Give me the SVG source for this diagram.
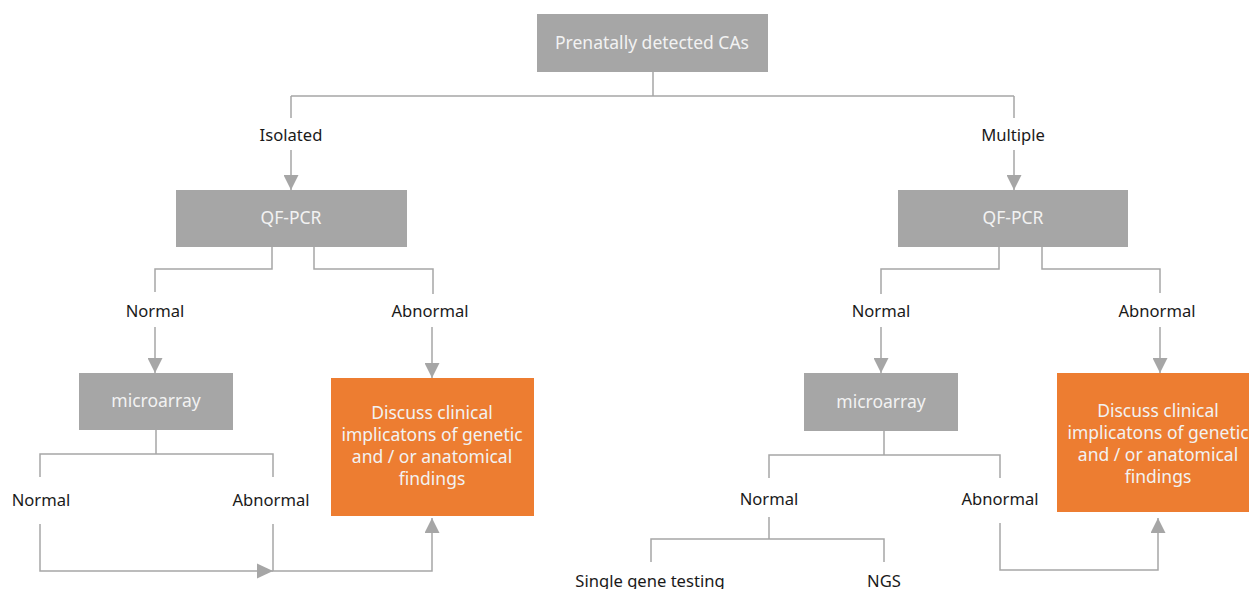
<svg xmlns="http://www.w3.org/2000/svg" width="1249" height="589" viewBox="0 0 1249 589">
<style>
.box{fill:#a6a6a6}
.or{fill:#ed7d31}
.bt{font-family:"Noto Sans","Open Sans",sans-serif;font-size:17.5px;fill:#f2f2f2;text-anchor:middle}
.lb{font-family:"Noto Sans","Open Sans",sans-serif;font-size:16.6px;fill:#1a1a1a;text-anchor:middle}
.ln{fill:none;stroke:#a6a6a6;stroke-width:1.5}
.ah{fill:#a6a6a6}
</style>
<defs>
<marker id="arr" markerUnits="userSpaceOnUse" markerWidth="15" markerHeight="15" viewBox="0 0 15 15" refX="15" refY="7.5" orient="auto"><path d="M0,0 L15,7.5 L0,15 Z" class="ah"/></marker>
</defs>
<rect width="1249" height="589" fill="#fff"/>
<g id="connectors">
<path class="ln" d="M653,72 V96 M291,96 H1014 M291,96 V118 M1014,96 V118"/>
<path class="ln" d="M291,150 V190" marker-end="url(#arr)"/>
<path class="ln" d="M1014,150 V190" marker-end="url(#arr)"/>
<path class="ln" d="M272,247 V269 H155 V292 M314,247 V269 H433 V294"/>
<path class="ln" d="M999,247 V269 H881 V294 M1042,247 V269 H1160 V293"/>
<path class="ln" d="M155,327 V373" marker-end="url(#arr)"/>
<path class="ln" d="M432,327 V378" marker-end="url(#arr)"/>
<path class="ln" d="M881,327 V373" marker-end="url(#arr)"/>
<path class="ln" d="M1160,327 V373" marker-end="url(#arr)"/>
<path class="ln" d="M156,430 V454 M40,477 V454 H273 V477"/>
<path class="ln" d="M884,431 V455 M769,478 V455 H1000 V478"/>
<path class="ln" d="M769,517 V539 M651,562 V539 H884 V562"/>
<path class="ln" d="M40,524 V571 H273"/>
<polygon class="ah" points="257,563.5 273,571 257,578.5"/>
<path class="ln" d="M273,524 V571 H432 V518" marker-end="url(#arr)"/>
<path class="ln" d="M1000,523 V570 H1158 V518" marker-end="url(#arr)"/>
</g>
<g id="top"><rect class="box" x="537" y="14" width="231" height="58"/><text class="bt" x="652" y="49">Prenatally detected  CAs</text></g>
<g id="lbl-isolated"><text class="lb" x="291" y="141">Isolated</text></g>
<g id="lbl-multiple"><text class="lb" x="1013" y="141">Multiple</text></g>
<g id="qf-left"><rect class="box" x="176" y="190" width="231" height="57"/><text class="bt" x="291" y="224">QF-PCR</text></g>
<g id="qf-right"><rect class="box" x="898" y="190" width="230" height="57"/><text class="bt" x="1013" y="224">QF-PCR</text></g>
<g id="lbl-l-normal"><text class="lb" x="155" y="317">Normal</text></g>
<g id="lbl-l-abnormal"><text class="lb" x="430" y="317">Abnormal</text></g>
<g id="lbl-r-normal"><text class="lb" x="881" y="317">Normal</text></g>
<g id="lbl-r-abnormal"><text class="lb" x="1157" y="317">Abnormal</text></g>
<g id="micro-left"><rect class="box" x="79" y="373" width="154" height="57"/><text class="bt" x="156" y="407">microarray</text></g>
<g id="micro-right"><rect class="box" x="804" y="373" width="154" height="58"/><text class="bt" x="881" y="408">microarray</text></g>
<g id="discuss-left"><rect class="or" x="331" y="378" width="203" height="138"/>
<text class="bt" x="432"><tspan x="432" y="419">Discuss clinical</tspan><tspan x="432" y="441">implicatons of genetic</tspan><tspan x="432" y="463">and / or anatomical</tspan><tspan x="432" y="485">findings</tspan></text></g>
<g id="discuss-right"><rect class="or" x="1057" y="373" width="192" height="139"/>
<text class="bt" x="1158"><tspan x="1158" y="417">Discuss clinical</tspan><tspan x="1158" y="439">implicatons of genetic</tspan><tspan x="1158" y="461">and / or anatomical</tspan><tspan x="1158" y="483">findings</tspan></text></g>
<g id="lbl-ll-normal"><text class="lb" x="41" y="506">Normal</text></g>
<g id="lbl-ll-abnormal"><text class="lb" x="271" y="506">Abnormal</text></g>
<g id="lbl-rl-normal"><text class="lb" x="769" y="505">Normal</text></g>
<g id="lbl-rl-abnormal"><text class="lb" x="1000" y="505">Abnormal</text></g>
<g id="lbl-single"><text class="lb" x="650" y="587">Single gene testing</text></g>
<g id="lbl-ngs"><text class="lb" x="884" y="587">NGS</text></g>
</svg>
